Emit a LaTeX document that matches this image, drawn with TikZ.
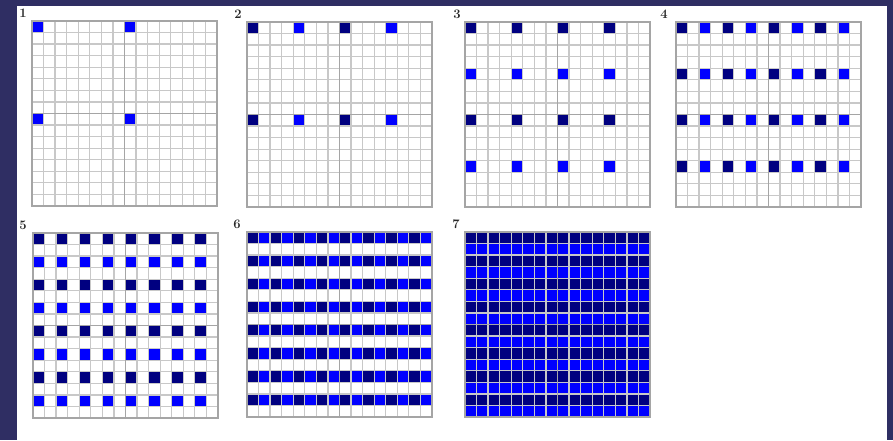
\documentclass[tikz,border=0pt]{standalone}
\usepackage{tikz}
\definecolor{bgpurple}{RGB}{47,46,99}
\definecolor{navycell}{RGB}{0,0,128}
\definecolor{bluecell}{RGB}{0,0,255}
\definecolor{gridgray}{RGB}{200,200,200}
\definecolor{midgray}{RGB}{165,165,165}
\definecolor{labgray}{RGB}{40,40,40}
\tikzset{
  gridline/.style={draw=gridgray,line width=1.3pt},
  midline/.style={draw=midgray,line width=1.7pt},
  borderline/.style={draw=midgray,line width=1.5pt},
  passlabel/.style={font=\fontsize{13}{13}\selectfont\bfseries,text=labgray,inner sep=0pt},
}
\def\cs{11.56}
\newcommand\passgrid[4]{%
\begin{scope}[shift={(#2,#3)}]
\coordinate (#1) at (0,0);
\foreach \p/\ry/\cx/\dr/\dc in {1/0/0/8/8,2/0/4/8/8,3/4/0/8/4,4/0/2/4/4,5/2/0/4/2,6/0/1/2/2,7/1/0/2/1}{%
  \ifnum\p>#4\relax\else
    \ifnum\p<#4\relax\def\cc{navycell}\else\def\cc{bluecell}\fi
    \pgfmathtruncatemacro\rn{\ry+\dr}%
    \pgfmathtruncatemacro\cn{\cx+\dc}%
    \foreach \r in {\ry,\rn,...,15}{%
      \foreach \c in {\cx,\cn,...,15}{%
        \fill[\cc] (\c*\cs,\r*\cs) rectangle ++(\cs,\cs);}}%
  \fi
}
\foreach \i in {1,...,15}{%
  \draw[gridline] (\i*\cs,0) -- (\i*\cs,16*\cs);
  \draw[gridline] (0,\i*\cs) -- (16*\cs,\i*\cs);}
\draw[midline] (8*\cs,0) -- (8*\cs,16*\cs);
\draw[midline] (0,8*\cs) -- (16*\cs,8*\cs);
\draw[borderline] (0,0) rectangle (16*\cs,16*\cs);
\end{scope}}
\begin{document}
\begin{tikzpicture}[x=1pt,y=-1pt]
\useasboundingbox (0,0) rectangle (893,440);
\fill[bgpurple] (0,0) rectangle (893,440);
\fill[white] (17,6) rectangle (887,440);
\passgrid{g1}{32}{21}{1}
\passgrid{g2}{247}{22}{2}
\passgrid{g3}{465}{22}{3}
\passgrid{g4}{676}{22}{4}
\passgrid{g5}{33}{233}{5}
\passgrid{g6}{247}{232}{6}
\passgrid{g7}{465}{232}{7}
\node[passlabel] (l1) at (23,13) {1};
\node[passlabel] (l2) at (238,14) {2};
\node[passlabel] (l3) at (457,14) {3};
\node[passlabel] (l4) at (664,14) {4};
\node[passlabel] (l5) at (23,225) {5};
\node[passlabel] (l6) at (237,224) {6};
\node[passlabel] (l7) at (456,224) {7};
\end{tikzpicture}
\end{document}
